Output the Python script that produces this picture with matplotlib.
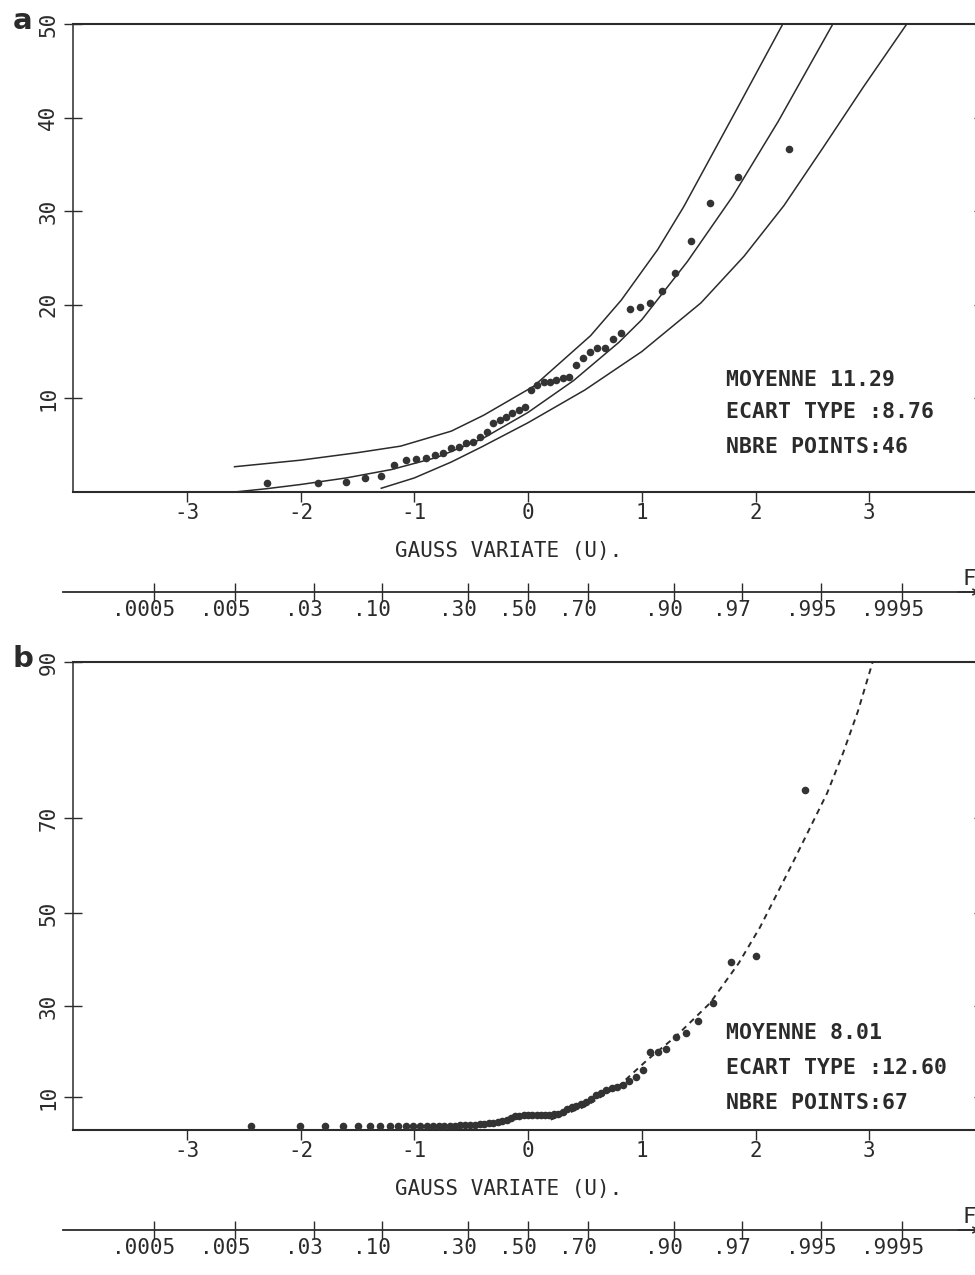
import math
import matplotlib
matplotlib.use("Agg")
import matplotlib.pyplot as plt
import matplotlib.transforms as mtransforms

# ---------------------------------------------------------------
# données
# ---------------------------------------------------------------
# panneau a : 46 valeurs triées
vals_a = [1.0, 1.0, 1.1, 1.5, 1.7, 2.9, 3.4, 3.5, 3.6, 4.0,
          4.2, 4.7, 4.8, 5.2, 5.3, 5.9, 6.4, 7.4, 7.7, 8.0,
          8.4, 8.8, 9.1, 10.9, 11.4, 11.8, 11.8, 12.0, 12.2, 12.3,
          13.6, 14.3, 15.0, 15.4, 15.4, 16.3, 17.0, 19.6, 19.8, 20.2,
          21.5, 23.4, 26.8, 30.9, 33.7, 36.6]

# courbe ajustée et limites (u, valeur)
mid_u = [-2.58, -2.3, -2.0, -1.6, -1.2, -0.8, -0.4, 0.0, 0.4, 0.8, 1.0, 1.4, 1.8, 2.2, 2.68]
mid_v = [0.0, 0.35, 0.8, 1.5, 2.4, 3.7, 5.7, 8.5, 11.9, 16.0, 18.4, 24.6, 31.6, 39.6, 50.0]
up_u = [-2.58, -2.0, -1.5, -1.12, -0.675, -0.39, 0.05, 0.55, 0.82, 1.14, 1.37, 1.84, 2.24]
up_v = [2.7, 3.4, 4.2, 4.9, 6.5, 8.2, 11.3, 16.7, 20.5, 25.9, 30.5, 41.0, 50.0]
lo_u = [-1.29, -1.0, -0.675, -0.41, 0.0, 0.5, 1.0, 1.52, 1.9, 2.25, 2.6, 2.95, 3.33]
lo_v = [0.4, 1.5, 3.2, 4.8, 7.4, 10.9, 15.0, 20.2, 25.2, 30.6, 36.9, 43.3, 50.0]

# panneau b : 67 valeurs triées
vals_b = [0.8, 0.8, 0.8, 0.8, 0.8, 0.8, 0.8, 0.8, 0.8, 0.8,
          0.8, 0.8, 0.8, 0.8, 0.8, 0.8, 0.8, 0.8, 0.9, 0.9,
          1.0, 1.0, 1.1, 1.2, 1.3, 1.4, 1.5, 1.7, 2.0, 2.4,
          2.6, 2.7, 2.8, 2.8, 2.8, 2.8, 2.9, 2.9, 2.9, 3.0,
          3.0, 3.5, 4.0, 4.4, 4.7, 5.0, 5.3, 6.0, 6.7, 7.2,
          7.7, 8.0, 8.2, 8.7, 9.4, 10.2, 11.5, 15.0, 15.0, 15.6,
          17.9, 18.7, 21.0, 24.4, 32.3, 33.5, 65.4]
fit_b_u = [0.2, 0.5, 0.8, 1.05, 1.3, 1.6, 1.85, 2.04, 2.33, 2.63, 2.77, 2.9, 3.03]
fit_b_v = [2.0, 4.5, 8.5, 13.5, 18.0, 24.4, 32.0, 39.0, 51.5, 64.8, 72.5, 80.5, 90.0]

stats_a = ["MOYENNE 11.29", "ECART TYPE :8.76", "NBRE POINTS:46"]
stats_b = ["MOYENNE 8.01", "ECART TYPE :12.60", "NBRE POINTS:67"]

u_ticks = [-3, -2, -1, 0, 1, 2, 3]
u_labels = ["-3", "-2", "-1", "0", "1", "2", "3"]
prob_ticks = [0.0005, 0.005, 0.03, 0.10, 0.30, 0.50, 0.70, 0.90, 0.97, 0.995, 0.9995]
prob_labels = [".0005", ".005", ".03", ".10", ".30", ".50", ".70", ".90", ".97", ".995", ".9995"]

ylabels_a = ["10", "20", "30", "40", "50"]
ylabels_b = ["10", "30", "50", "70", "90"]

FONT = "DejaVu Sans Mono"
INK = "#2b2b2b"
FS = 15


def norm_ppf(p):
    # quantile gaussien par dichotomie
    lo, hi = -10.0, 10.0
    for _ in range(80):
        mid = 0.5 * (lo + hi)
        if 0.5 * (1 + math.erf(mid / math.sqrt(2))) < p:
            lo = mid
        else:
            hi = mid
    return 0.5 * (lo + hi)


def hazen(n):
    return [norm_ppf((i - 0.5) / n) for i in range(1, n + 1)]


def draw_panel(fig, rect, prob_y, vals, ymax, ytick_pos, ylabels, stats, stats_y,
               letter, curves):
    ax = fig.add_axes(rect)
    ax.set_xlim(-4, 4)
    ax.set_ylim(0, ymax)
    for sp in ax.spines.values():
        sp.set_color(INK)
        sp.set_linewidth(1.5)
    ax.spines["left"].set_linewidth(1.1)

    for u, v, ls, lw in curves:
        ax.plot(u, v, color=INK, lw=lw, ls=ls)
    ax.scatter(hazen(len(vals)), vals, s=30, color="#333333", lw=0, zorder=3,
               clip_on=False)

    ax.set_xticks(u_ticks)
    ax.set_xticklabels(u_labels, family=FONT, fontsize=FS, color=INK)
    ax.tick_params(axis="x", direction="out", length=7, width=1, color=INK, pad=1)
    ax.set_yticks(ytick_pos)
    ax.set_yticklabels(ylabels, family=FONT, fontsize=FS, color=INK,
                       rotation=90, va="center")
    ax.tick_params(axis="y", direction="inout", length=13, width=1, color=INK,
                   right=True, labelright=False, pad=4)
    ax.set_xlabel("GAUSS VARIATE (U).", family=FONT, fontsize=FS, color=INK)
    ax.xaxis.set_label_coords(0.479, -0.105)

    for s, yy in zip(stats, stats_y):
        ax.text(0.7175, yy, s, transform=ax.transAxes, family=FONT, fontsize=15.5,
                fontweight="bold", color=INK, va="center")

    fig.text(0.013, rect[1] + rect[3] + 0.002, letter, family="DejaVu Sans",
             fontsize=21, fontweight="bold", va="center", ha="left", color=INK)

    # échelle des fréquences F, alignée sur u
    pax = fig.add_axes([rect[0] - 0.01, prob_y, rect[2] + 0.01, 0.001])
    pax.set_xlim(-4 - 0.01 / rect[2] * 8, 4)
    pax.set_yticks([])
    for k in ["left", "right", "top"]:
        pax.spines[k].set_visible(False)
    pax.spines["bottom"].set_color(INK)
    pax.spines["bottom"].set_linewidth(1.3)
    ppos = [norm_ppf(p) for p in prob_ticks]
    pax.set_xticks(ppos)
    pax.set_xticklabels([])
    pax.tick_params(axis="x", direction="inout", length=13, width=1, color=INK)
    # étiquettes légèrement décalées à gauche des graduations
    shift = mtransforms.ScaledTranslation(-0.10, -0.08, fig.dpi_scale_trans)
    for x, lab in zip(ppos, prob_labels):
        pax.text(x, 0, lab, transform=pax.get_xaxis_transform() + shift,
                 family=FONT, fontsize=FS, color=INK, ha="center", va="top")
    pax.annotate("", xy=(1.0, 0), xytext=(0.97, 0), xycoords="axes fraction",
                 arrowprops=dict(arrowstyle="->", color=INK, lw=1.2))
    pax.text(0.985, 2.0, "F", transform=pax.transAxes, family=FONT, fontsize=16,
             ha="center", va="bottom", color=INK)
    return ax


fig = plt.figure(figsize=(9.75, 12.75), dpi=100)

curves_a = [(mid_u, mid_v, "-", 1.1), (up_u, up_v, "-", 1.1), (lo_u, lo_v, "-", 1.1)]
draw_panel(fig, [73 / 975, 1 - 492 / 1275, 910 / 975, 468 / 1275], 1 - 592 / 1275,
           vals_a, 50, [10, 20, 30, 40, 50], ylabels_a, stats_a,
           [0.239, 0.171, 0.096], "a", curves_a)

curves_b = [(fit_b_u, fit_b_v, (0, (3, 2.5)), 1.4)]
draw_panel(fig, [73 / 975, 1 - 1130 / 1275, 910 / 975, 468 / 1275], 1 - 1230 / 1275,
           vals_b, 90, [6.3, 23.8, 41.7, 60.0, 90], ylabels_b, stats_b,
           [0.207, 0.132, 0.058], "b", curves_b)

fig.savefig("out.png", dpi=100)
